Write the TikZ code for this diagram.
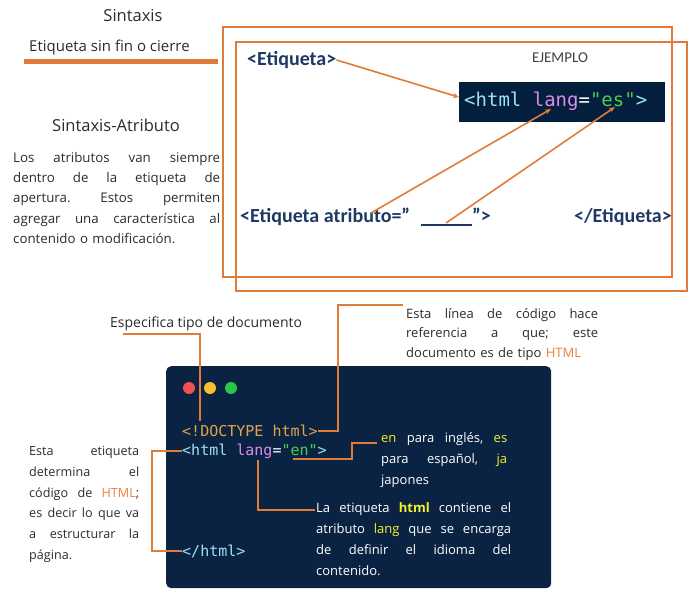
\documentclass[tikz,border=0pt]{standalone}
\usepackage{fontspec}
\setmainfont{Open Sans}
\newfontfamily\calib{Carlito}
\newfontfamily\mono{DejaVu Sans Mono}
\usetikzlibrary{arrows.meta}
\definecolor{orng}{HTML}{E07B39}
\definecolor{navy}{HTML}{1F3864}
\definecolor{txt}{HTML}{2B2B2B}
\definecolor{codebg}{HTML}{041E3D}
\definecolor{codebgb}{HTML}{0B2342}
\definecolor{ccyan}{HTML}{9BE3F5}
\definecolor{cmag}{HTML}{D98BE8}
\definecolor{cgreen}{HTML}{4FCB4F}
\definecolor{cgold}{HTML}{E3A34A}
\definecolor{cyel}{HTML}{F2F230}
\definecolor{htmlor}{HTML}{EE7E3C}
\newcommand{\jl}[2]{\leavevmode\hbox to #1{#2}}
\newcommand{\hf}{\hfill}
\begin{document}
\begin{tikzpicture}[x=1pt,y=-1pt,
  conn/.style={draw=orng,line width=1.6pt},
  arr/.style={conn,-{Stealth[length=6pt,width=5pt]}},
  frame/.style={draw=orng,line width=1.6pt},
  lbl/.style={text=txt,inner sep=0pt,font=\fontsize{14}{20}\selectfont},
  ttl/.style={text=txt,inner sep=0pt,font=\fontsize{16.5}{20}\selectfont},
  para/.style={text=txt,inner sep=0pt,align=left,anchor=north west},
  wpara/.style={text=white,inner sep=0pt,align=left,anchor=north west},
  tagl/.style={text=navy,inner sep=0pt,font=\calib\bfseries\fontsize{20}{24}\selectfont},
  codel/.style={inner sep=0pt,anchor=west,font=\mono\fontsize{15}{18}\selectfont},
  dot/.style={circle,inner sep=0pt,minimum size=12pt}
]
\useasboundingbox (0,0) rectangle (691,597);

% left column
\node[ttl] (sintaxis) at (133,16) {Sintaxis};
\node[lbl,anchor=west,font=\fontsize{15}{20}\selectfont] (sinfin) at (29,48) {Etiqueta sin fin o cierre};
\coordinate (ul1) at (24,61);
\coordinate (ul2) at (218,61);
\draw[draw=orng,line width=5pt] (ul1) -- (ul2);
\node[ttl] (sinatr) at (116,125) {Sintaxis-Atributo};
\node[para,text width=207pt,font=\fontsize{13.3}{20.3}\selectfont] (parr) at (13,152)
 {\jl{207pt}{Los\hf atributos\hf van\hf siempre}\\
  \jl{207pt}{dentro\hf de\hf la\hf etiqueta\hf de}\\
  \jl{207pt}{apertura.\hf Estos\hf permiten}\\
  \jl{207pt}{agregar\hf una\hf característica\hf al}\\
  contenido o modificación.};

% frames
\node[frame,anchor=north west,minimum width=449pt,minimum height=250pt,inner sep=0pt] (fr1) at (222,26) {};
\node[frame,anchor=north west,minimum width=451pt,minimum height=249pt,inner sep=0pt] (fr2) at (235,41) {};

\node[tagl,anchor=west] (etq) at (247,60) {<Etiqueta>};
\node[inner sep=0pt,text={rgb,255:red,64;green,64;blue,64},font=\calib\fontsize{15}{18}\selectfont] (ejem) at (560,58) {EJEMPLO};
\node[fill=codebg,anchor=north west,minimum width=206pt,minimum height=40pt,inner sep=0pt] (ex) at (459,82) {};
\node[codel,font=\mono\fontsize{19}{22}\selectfont] (excode) at (464,101)
  {\textcolor{ccyan}{<html} \textcolor{cmag}{lang}\textcolor{white}{=}\textcolor{cgreen}{"es"}\textcolor{ccyan}{>}};
\coordinate (langpt) at (551,109);
\coordinate (espt) at (615,107);

\node[tagl,anchor=west] (atr) at (240,217) {<Etiqueta atributo=”\hspace{11pt}\rule[-4pt]{51pt}{1.8pt}”>};
\node[tagl,anchor=east] (etqc) at (672,217) {</Etiqueta>};
\coordinate (a1) at (371,213);
\coordinate (a2) at (446,223);

\draw[arr] (etq.east) -- ([yshift=5pt]ex.west);
\draw[arr] (a1) -- (langpt);
\draw[arr] (a2) -- (espt);

% bottom
\node[lbl,anchor=west] (esp) at (110,324) {Especifica tipo de documento};
\node[para,text width=192pt,font=\fontsize{13}{19.5}\selectfont] (linea) at (406,308)
 {\jl{192pt}{Esta\hf línea\hf de\hf código\hf hace}\\
  \jl{192pt}{referencia\hf a\hf que;\hf este}\\
  documento es de tipo \textcolor{htmlor}{HTML}};

\node[fill=codebgb,rounded corners=5pt,anchor=north west,minimum width=385pt,minimum height=222pt,inner sep=0pt] (code) at (166,366) {};
\node[dot,fill={rgb,255:red,240;green,82;blue,82}] (d1) at (189,388) {};
\node[dot,fill={rgb,255:red,247;green,190;blue,45}] (d2) at (210,388) {};
\node[dot,fill={rgb,255:red,40;green,200;blue,70}] (d3) at (231,388) {};

\node[codel,text=cgold] (doct) at (182,431) {<!DOCTYPE html>};
\node[codel] (htmlo) at (182,451) {\textcolor{ccyan}{<html} \textcolor{cmag}{lang}\textcolor{white}{=}\textcolor{cgreen}{"en"}\textcolor{ccyan}{>}};
\node[codel,text=ccyan] (htmlc) at (182,551) {</html>};

\node[wpara,text width=129pt,font=\fontsize{13}{21}\selectfont] (entxt) at (381,432)
 {\jl{126pt}{\textcolor{cyel}{en}\hf para\hf inglés,\hf \textcolor{cyel}{es}}\\
  \jl{126pt}{para\hf español,\hf \textcolor{cyel}{ja}}\\
  japones};
\node[wpara,text width=195pt,font=\fontsize{13}{21}\selectfont] (langtxt) at (316,502)
 {\jl{195pt}{La\hf etiqueta\hf \textcolor{cyel}{\bfseries html}\hf contiene\hf el}\\
  \jl{195pt}{atributo\hf \textcolor{cyel}{lang}\hf que\hf se\hf encarga}\\
  \jl{195pt}{de\hf definir\hf el\hf idioma\hf del}\\
  contenido.};
\node[para,text width=110pt,font=\fontsize{12.6}{20.8}\selectfont] (leftxt) at (29,446)
 {\jl{110pt}{Esta\hf etiqueta}\\
  \jl{110pt}{determina\hf el}\\
  \jl{110pt}{código\hf de\hf \textcolor{htmlor}{HTML};}\\
  \jl{110pt}{es\hf decir\hf lo\hf que\hf va}\\
  \jl{110pt}{a\hf estructurar\hf la}\\
  página.};

% connectors
\coordinate (e1) at (123,334);
\coordinate (e2) at (200,421);
\draw[conn] (e1) -| (e2);

\coordinate (c2) at (338,305);
\coordinate (c3) at (403,305);
\draw[conn] (doct.east) -| (c2) -- (c3);

\coordinate (en1) at (293,459);
\coordinate (en2) at (352,443);
\coordinate (en3) at (377,443);
\draw[conn] (en1) -| (en2) -- (en3);

\coordinate (l1) at (258,460);
\coordinate (l2) at (315,510);
\draw[conn] (l1) |- (l2);

\coordinate (b1) at (152,451);
\coordinate (b2) at (152,551);
\draw[conn] (htmlo.west) -- (b1) -- (b2) -- (htmlc.west);
\end{tikzpicture}
\end{document}
